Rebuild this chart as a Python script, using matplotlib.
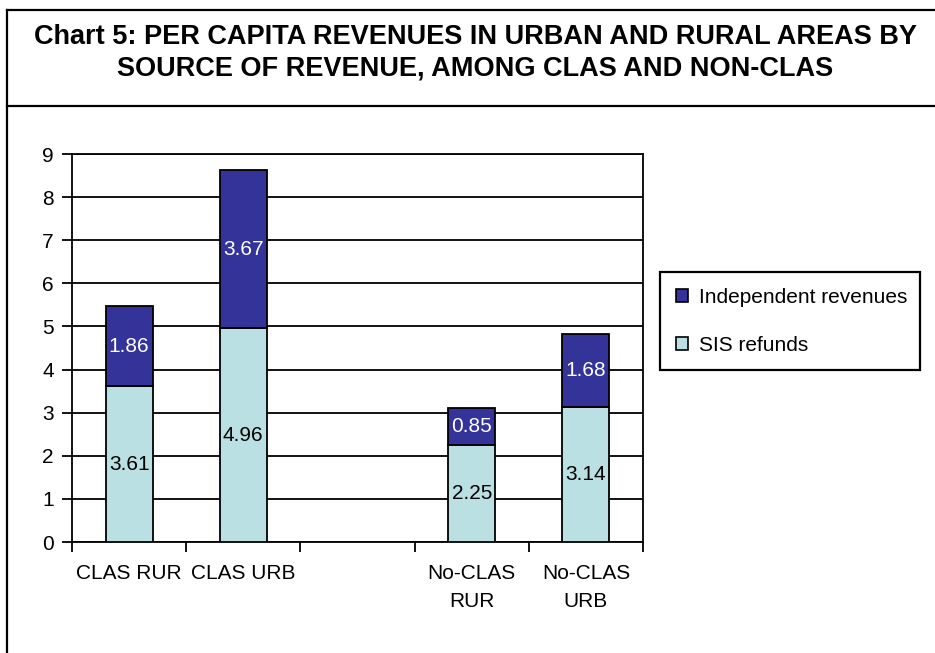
import matplotlib
matplotlib.use("Agg")
import matplotlib.pyplot as plt
from matplotlib.lines import Line2D
from matplotlib.patches import Patch

plt.rcParams['font.family'] = ['Liberation Sans', 'DejaVu Sans']

categories = ["CLAS RUR", "CLAS URB", "", "No-CLAS\nRUR", "No-CLAS\nURB"]
sis_refunds = [3.61, 4.96, None, 2.25, 3.14]
independent = [1.86, 3.67, None, 0.85, 1.68]
series_names = ["Independent revenues", "SIS refunds"]
title = "Chart 5: PER CAPITA REVENUES IN URBAN AND RURAL AREAS BY\nSOURCE OF REVENUE, AMONG CLAS AND NON-CLAS"

dark = "#333399"
light = "#BBE0E3"

W, H = 935, 653
fig = plt.figure(figsize=(W / 100, H / 100), dpi=100)

# frames
def fx(x): return x / W
def fy(y): return 1 - y / H
lw = 1.6
fig.add_artist(Line2D([fx(7), fx(940)], [fy(10), fy(10)], color="black", lw=lw))
fig.add_artist(Line2D([fx(7), fx(940)], [fy(106), fy(106)], color="black", lw=lw))
fig.add_artist(Line2D([fx(7), fx(7)], [fy(10), fy(660)], color="black", lw=lw))

fig.text(fx(475), fy(53), title, ha="center", va="center", fontsize=19.5,
         fontweight="bold", linespacing=1.27)

ax = fig.add_axes([fx(72), fy(542), fx(643) - fx(72), fy(154) - fy(542)])

xs = [i for i, v in enumerate(sis_refunds) if v is not None]
s_vals = [sis_refunds[i] for i in xs]
i_vals = [independent[i] for i in xs]
bw = 0.41
ax.bar(xs, s_vals, width=bw, color=light, edgecolor="black", linewidth=1.3, zorder=3)
ax.bar(xs, i_vals, width=bw, bottom=s_vals, color=dark, edgecolor="black", linewidth=1.3, zorder=3)

for x, s, v in zip(xs, s_vals, i_vals):
    ax.text(x, s / 2, f"{s:.2f}", ha="center", va="center", fontsize=15, color="black", zorder=4)
    ax.text(x, s + v / 2, f"{v:.2f}", ha="center", va="center", fontsize=15, color="white", zorder=4)

ax.set_xlim(-0.5, len(categories) - 0.5)
ax.set_ylim(0, 9)
ax.set_yticks(range(0, 10))
ax.yaxis.grid(True, color="black", linewidth=1.3, zorder=0)
ax.set_axisbelow(True)
ax.set_xticks(range(len(categories)))
ax.set_xticklabels(categories, fontsize=15, linespacing=1.58)
ax.tick_params(axis="x", length=0, pad=16)
ax.set_xticks([i - 0.5 for i in range(len(categories) + 1)], minor=True)
ax.tick_params(axis="x", which="minor", length=7, width=1.3, direction="out")
ax.tick_params(axis="y", length=7, width=1.3, direction="out", labelsize=15, pad=6)
for sp in ax.spines.values():
    sp.set_color("black")
    sp.set_linewidth(1.3)

handles = [Patch(facecolor=dark, edgecolor="black", linewidth=1.2),
           Patch(facecolor=light, edgecolor="black", linewidth=1.2)]
leg = fig.legend(handles, series_names, loc="upper left",
                 bbox_to_anchor=(fx(660), fy(366), fx(920) - fx(660), fy(272) - fy(366)),
                 mode="expand", fontsize=15, frameon=True, fancybox=False,
                 edgecolor="black", handlelength=0.6, handleheight=0.6,
                 handletextpad=0.5, labelspacing=1.4, borderpad=0.75, borderaxespad=0)
leg.get_frame().set_linewidth(1.6)
leg.get_frame().set_alpha(1)

fig.savefig("out.png", dpi=100)
